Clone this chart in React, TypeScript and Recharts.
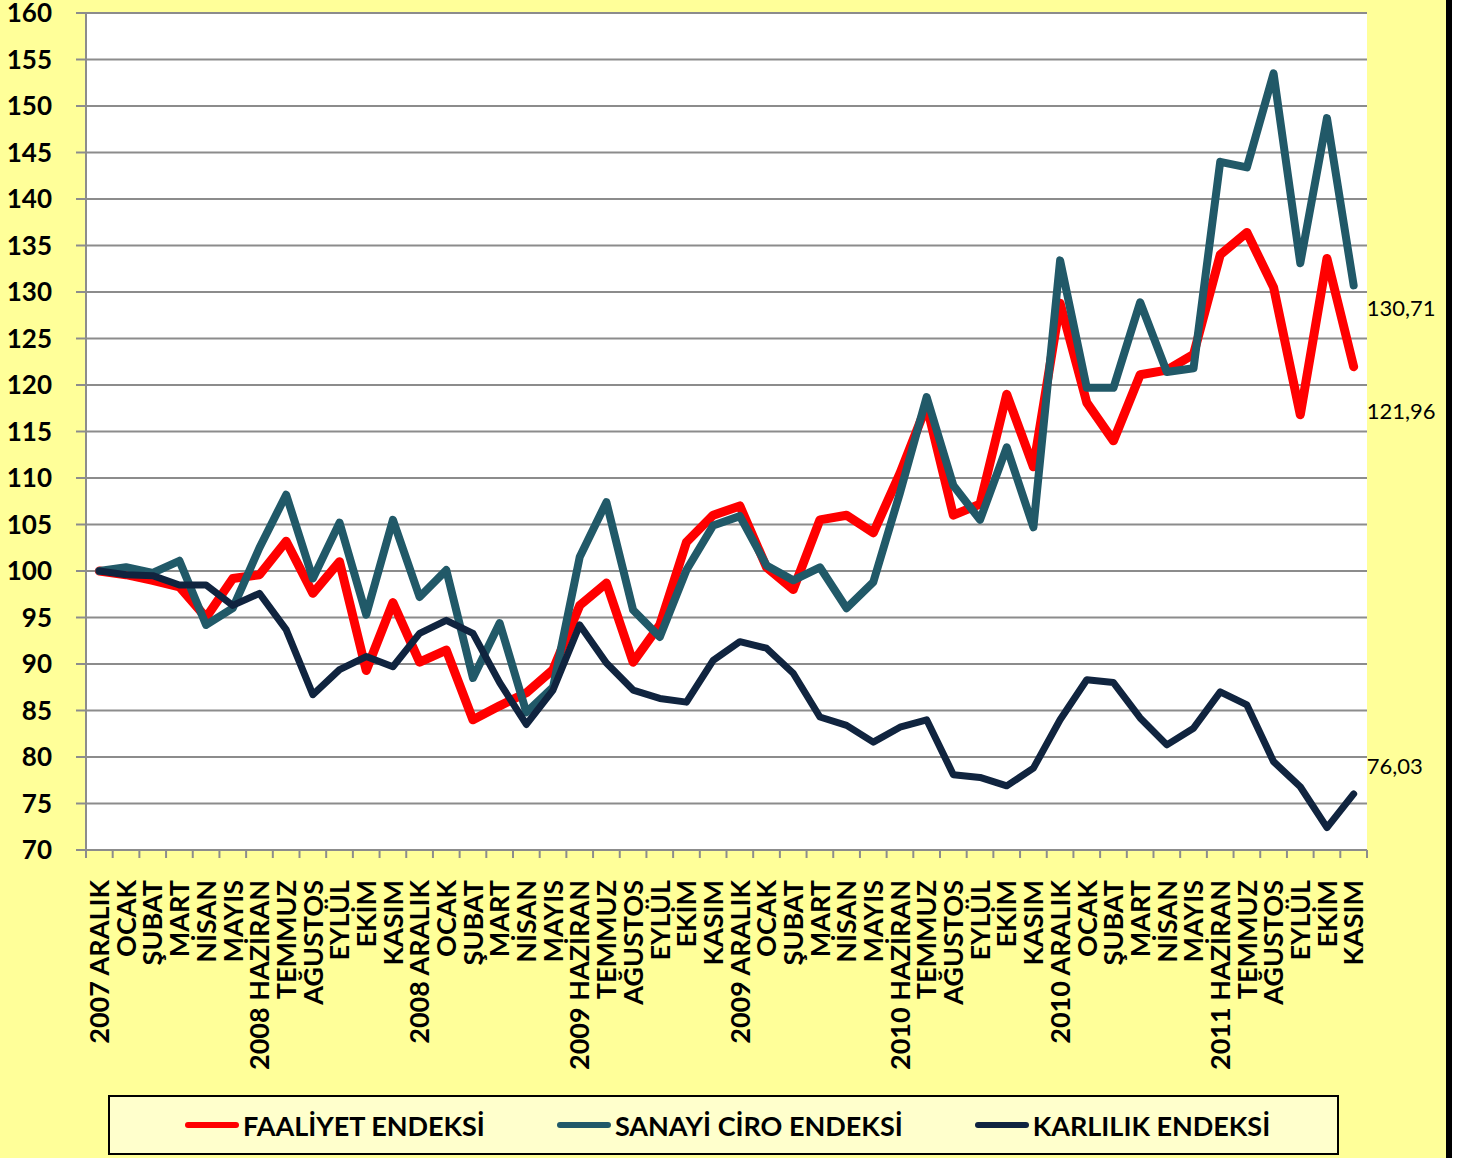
import React from 'react';
import { LineChart, Line, XAxis, YAxis, CartesianGrid } from 'recharts';

const months = [
  '2007 ARALIK', 'OCAK', 'ŞUBAT', 'MART', 'NİSAN', 'MAYIS',
  '2008 HAZİRAN', 'TEMMUZ', 'AĞUSTOS', 'EYLÜL', 'EKİM', 'KASIM',
  '2008 ARALIK', 'OCAK', 'ŞUBAT', 'MART', 'NİSAN', 'MAYIS',
  '2009 HAZİRAN', 'TEMMUZ', 'AĞUSTOS', 'EYLÜL', 'EKİM', 'KASIM',
  '2009 ARALIK', 'OCAK', 'ŞUBAT', 'MART', 'NİSAN', 'MAYIS',
  '2010 HAZİRAN', 'TEMMUZ', 'AĞUSTOS', 'EYLÜL', 'EKİM', 'KASIM',
  '2010 ARALIK', 'OCAK', 'ŞUBAT', 'MART', 'NİSAN', 'MAYIS',
  '2011 HAZİRAN', 'TEMMUZ', 'AĞUSTOS', 'EYLÜL', 'EKİM', 'KASIM',
];

const faaliyet = [
  100, 99.6, 99.0, 98.3, 95.0, 99.2, 99.6, 103.2, 97.6, 101.0, 89.3, 96.6,
  90.2, 91.5, 84.0, 85.5, 86.9, 89.4, 96.3, 98.7, 90.2, 94.2, 103.1, 106.0,
  107.0, 100.4, 98.0, 105.5, 106.0, 104.1, 110.5, 117.8, 106.0, 107.2, 119.0, 111.2,
  128.8, 118.1, 114.0, 121.1, 121.6, 123.3, 134.0, 136.4, 130.5, 116.8, 133.6, 121.96,
];

const sanayiCiro = [
  100, 100.4, 99.8, 101.1, 94.2, 96.0, 102.5, 108.2, 99.2, 105.2, 95.3, 105.5,
  97.2, 100.1, 88.5, 94.4, 84.8, 87.5, 101.5, 107.4, 95.8, 92.9, 100.1, 104.9,
  105.9, 100.6, 99.0, 100.4, 96.0, 98.8, 108.4, 118.7, 109.2, 105.5, 113.3, 104.7,
  133.4, 119.7, 119.7, 128.9, 121.4, 121.8, 144.0, 143.4, 153.5, 133.1, 148.7, 130.71,
];

const karlilik = [
  100, 99.6, 99.5, 98.5, 98.5, 96.3, 97.6, 93.7, 86.7, 89.4, 90.8, 89.7,
  93.3, 94.7, 93.3, 88.0, 83.5, 87.2, 94.2, 90.1, 87.2, 86.3, 85.9, 90.4,
  92.4, 91.7, 89.0, 84.3, 83.4, 81.6, 83.2, 84.0, 78.1, 77.8, 76.9, 78.8,
  84.0, 88.3, 88.0, 84.2, 81.3, 83.1, 87.0, 85.6, 79.5, 76.8, 72.4, 76.03,
];

const yTicks = [70, 75, 80, 85, 90, 95, 100, 105, 110, 115, 120, 125, 130, 135, 140, 145, 150, 155, 160];

const data = months.map((m, i) => ({
  month: m,
  faaliyet: faaliyet[i],
  sanayi: sanayiCiro[i],
  karlilik: karlilik[i],
}));

const FONT = 'Lato, "Liberation Sans", sans-serif';
const GRID = '#8c8c8c';
const X_MARGIN = 30;

const CHART_W = 1446;
const CHART_H = 1158;
const MARGIN = { top: 13, right: 79, bottom: 68, left: 0 };
const Y_W = 86;
const PLOT_W = CHART_W - MARGIN.left - MARGIN.right - Y_W;
const HALF_BAND = PLOT_W / months.length / 2;

const series = [
  { key: 'faaliyet', name: 'FAALİYET ENDEKSİ', color: '#ff0000', width: 9, dy: 52 },
  { key: 'sanayi', name: 'SANAYİ CİRO ENDEKSİ', color: '#215968', width: 8, dy: 31 },
  { key: 'karlilik', name: 'KARLILIK ENDEKSİ', color: '#10243f', width: 7, dy: -20 },
];

const fmt = (v: number) => v.toFixed(2).replace('.', ',');

const endLabel = (dy: number) => (props: any) => {
  const { x, y, value, index } = props;
  if (index !== months.length - 1) return null;
  return (
    <text x={x + 13} y={y + dy} fontFamily={FONT} fontSize={22} fill="#000">
      {fmt(value)}
    </text>
  );
};

// month label plus the small tick marks on the band edges
const MonthTick = (props: any) => {
  const { x, y, payload, index } = props;
  const axisY = y - X_MARGIN;
  const left = x - HALF_BAND;
  const right = x + HALF_BAND;
  return (
    <g>
      <line x1={left} x2={left} y1={axisY} y2={axisY + 8} stroke={GRID} strokeWidth={2} />
      {index === months.length - 1 && (
        <line x1={right} x2={right} y1={axisY} y2={axisY + 8} stroke={GRID} strokeWidth={2} />
      )}
      <text
        x={x}
        y={y}
        transform={`rotate(-90 ${x} ${y})`}
        textAnchor="end"
        dy="0.36em"
        fontFamily={FONT}
        fontWeight={700}
        fontSize={27}
        fill="#000"
      >
        {payload.value}
      </text>
    </g>
  );
};

const Legend = () => (
  <div
    style={{
      position: 'absolute',
      left: 108,
      top: 1095,
      width: 1231,
      height: 60,
      background: '#ffffcc',
      border: '2px solid #000',
      display: 'flex',
      alignItems: 'center',
      paddingLeft: 75,
      boxSizing: 'border-box',
      gap: 72,
      fontFamily: FONT,
      fontWeight: 700,
      fontSize: 27,
    }}
  >
    {series.map((s) => (
      <div key={s.key} style={{ display: 'flex', alignItems: 'center' }}>
        <span
          style={{
            display: 'inline-block',
            width: 54,
            height: 6,
            borderRadius: 3,
            background: s.color,
            marginRight: 4,
          }}
        />
        <span>{s.name}</span>
      </div>
    ))}
  </div>
);

export default function App() {
  return (
    <div
      style={{
        position: 'absolute',
        left: 0,
        top: 0,
        width: 1467,
        height: CHART_H,
        background: '#fff',
        overflow: 'hidden',
      }}
    >
      <div
        style={{
          position: 'absolute',
          left: 0,
          top: 0,
          width: CHART_W,
          height: CHART_H,
          background: '#ffff99',
          borderRight: '6px solid #000',
        }}
      >
        <LineChart width={CHART_W} height={CHART_H} data={data} margin={MARGIN}>
          <CartesianGrid vertical={false} fill="#fff" stroke={GRID} strokeWidth={2} />
          <XAxis
            dataKey="month"
            padding={{ left: HALF_BAND, right: HALF_BAND }}
            interval={0}
            height={240}
            tickLine={false}
            tickSize={0}
            tickMargin={X_MARGIN}
            axisLine={{ stroke: GRID, strokeWidth: 2 }}
            tick={<MonthTick />}
          />
          <YAxis
            domain={[70, 160]}
            ticks={yTicks}
            width={Y_W}
            interval={0}
            axisLine={{ stroke: GRID, strokeWidth: 2 }}
            tickLine={{ stroke: GRID, strokeWidth: 2 }}
            tickSize={10}
            tickMargin={24}
            tick={{ fontFamily: FONT, fontWeight: 700, fontSize: 26, fill: '#000' }}
          />
          {series.map((s) => (
            <Line
              key={s.key}
              dataKey={s.key}
              name={s.name}
              stroke={s.color}
              strokeWidth={s.width}
              strokeLinejoin="round"
              strokeLinecap="round"
              dot={false}
              activeDot={false}
              isAnimationActive={false}
              label={endLabel(s.dy)}
            />
          ))}
        </LineChart>
        <Legend />
      </div>
    </div>
  );
}
